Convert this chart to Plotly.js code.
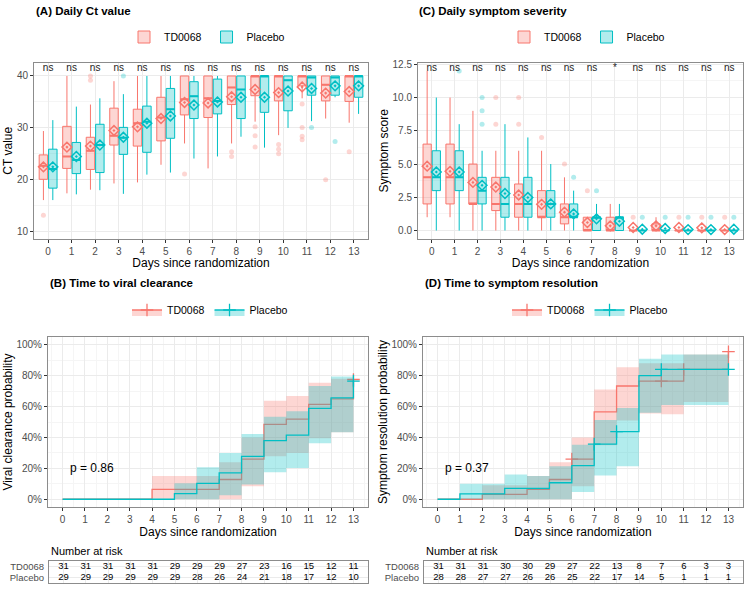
<!DOCTYPE html>
<html><head><meta charset="utf-8">
<script src="https://cdn.plot.ly/plotly-3.0.1.min.js"></script>
<style>body{margin:0;background:#fff}#chart{width:750px;height:600px}</style>
</head><body><div id="chart"></div>
<script>
// ---------------- data ----------------
const days = [0,1,2,3,4,5,6,7,8,9,10,11,12,13];
const groupNames = ['TD0068','Placebo'];

// Panel A: daily Ct value (box stats)
const ctTD_q1   = [20.1,22.2,22.0,26.7,26.5,27.5,32.5,32.0,34.5,36.2,35.2,38.1,35.2,35.1];
const ctTD_med  = [22.7,24.5,25.6,28.5,30.9,32.0,35.5,35.7,37.8,40,40,40,38.3,40];
const ctTD_q3   = [24.8,30.3,28.2,33.8,33.6,35.9,40,40,40,40,40,40,40,40];
const ctTD_lo   = [16.1,17.4,18.1,19.3,19.5,22.9,27.0,22.2,27.0,31.2,28.6,35.7,31.8,31.0];
const ctTD_hi   = [29.4,40,34.5,39.0,40,40,40,40,40,40,40,40,40,40];
const ctTD_mean = [22.5,26.3,26.5,29.5,30.2,31.8,34.9,34.8,36.0,37.4,36.8,37.9,36.7,37.0];
const ctTD_outDay = [0,2,2,6,8,8,9,9,9,10,10,10,11,11,11,11,12,13];
const ctTD_outVal = [13.2,40,39.2,21.1,25.4,24.5,30.2,28.5,26.3,26.8,25.9,25.0,34.6,30.1,28.4,27.7,20.0,25.4];

const ctPL_q1   = [18.4,21.2,21.4,24.9,25.3,28.0,31.8,32.7,31.8,33.0,33.3,36.3,36.3,35.9];
const ctPL_med  = [22.1,23.8,26.7,28.1,31.2,33.6,36.1,35.2,37.4,40,39.2,39.7,39.7,40];
const ctPL_q3   = [25.9,27.2,30.7,30.1,34.2,37.6,38.9,39.4,40,40,40,40,40,40];
const ctPL_lo   = [16.1,17.2,18.0,17.3,21.0,21.4,24.1,24.5,28.3,26.2,30.0,31.3,35.9,32.7];
const ctPL_hi   = [31.5,34.1,35.7,36.5,40,40,40,40,40,40,40,40,40,40];
const ctPL_mean = [22.5,24.5,26.7,28.2,30.9,32.3,34.4,35.0,35.9,35.9,37.1,37.6,38.1,38.1];
const ctPL_outDay = [3,11,12];
const ctPL_outVal = [40,30.1,27.4];
const ctSig = ['ns','ns','ns','ns','ns','ns','ns','ns','ns','ns','ns','ns','ns','ns'];

// Panel C: daily symptom score (box stats)
const ssTD_q1   = [2,2,2,1.5,1,1,0.5,0,0,0,0,0,0,0];
const ssTD_med  = [4,4,2,2,2,1,1,0,0,0,0,0,0,0];
const ssTD_q3   = [6.5,6.5,5,4,3.5,3,2,1,1,0,0.5,0,0,0];
const ssTD_lo   = [1,1,0,0,0,0,0,0,0,0,0,0,0,0];
const ssTD_hi   = [12,10,9,6,6,6,4,1,2,0,1,0,0,0];
const ssTD_mean = [4.84,4.45,3.62,3.27,2.67,1.97,1.38,0.6,0.35,0.23,0.35,0.23,0.2,0.07];
const ssTD_outDay = [3,3,4,4,5,6,7,9,11,12,13];
const ssTD_outVal = [10,8,10,8,7,5,3,1,1,1,1];

const ssPL_q1   = [3,3,2,1,1,1,1,0,0,0,0,0,0,0];
const ssPL_med  = [4,4,3,2,2,2,1,1,1,0,0,0,0,0];
const ssPL_q3   = [6,6,4,4,4,3,2,1,1,0,0,0,0,0];
const ssPL_lo   = [0,0,0,0,0,0,0,0,0,0,0,0,0,0];
const ssPL_hi   = [10,8,6,8,7,5,3,2,2,0,0,0,0,0];
const ssPL_mean = [4.4,4.4,3.4,2.78,2.48,2.0,1.25,0.88,0.7,0.1,0.15,0.07,0.07,0.1];
const ssPL_outDay = [1,2,2,2,6,7,9,10,11,12,13];
const ssPL_outVal = [12,10,9,8,4,3,1,1,1,1,1];
const ssSig = ['ns','ns','ns','ns','ns','ns','ns','ns','*','ns','ns','ns','ns','ns'];

// Panel B: time to viral clearance (KM cumulative)
const vcTD    = [0,0,0,0,0.064,0.064,0.064,0.128,0.26,0.485,0.518,0.614,0.65,0.775];
const vcTD_lo = [0,0,0,0,0,0,0,0,0.085,0.278,0.30,0.395,0.434];
const vcTD_hi = [0,0,0,0,0.15,0.15,0.15,0.24,0.40,0.637,0.669,0.754,0.78];
const vcPL    = [0,0,0,0,0,0.036,0.103,0.171,0.278,0.38,0.415,0.588,0.656,0.765];
const vcPL_lo = [0,0,0,0,0,0,0,0.026,0.096,0.175,0.203,0.363,0.434];
const vcPL_hi = [0,0,0,0,0,0.103,0.207,0.30,0.423,0.534,0.57,0.733,0.795];
const vcTD_cenX = [13], vcTD_cenY = [0.775];
const vcPL_cenX = [13], vcPL_cenY = [0.765];
const vcRiskTD = [31,31,31,31,31,29,29,29,27,23,16,15,12,11];
const vcRiskPL = [29,29,29,29,29,29,28,26,24,21,18,17,12,10];
const vcP = 'p = 0.86';

// Panel D: time to symptom resolution (KM cumulative)
const srTD    = [0,0,0.032,0.032,0.065,0.128,0.26,0.566,0.733,0.765,0.765,0.84,0.84,0.955];
const srTD_lo = [0,0,0,0,0,0,0.085,0.35,0.51,0.555,0.55,0.63,0.63];
const srTD_hi = [0,0,0.09,0.09,0.15,0.24,0.40,0.71,0.855,0.88,0.88,0.936,0.936];
const srPL    = [0,0.035,0.035,0.07,0.07,0.107,0.218,0.357,0.438,0.80,0.84,0.84,0.84,0.84];
const srPL_lo = [0,0,0,0,0,0,0.047,0.154,0.214,0.56,0.61,0.61,0.61];
const srPL_hi = [0,0.10,0.10,0.16,0.15,0.214,0.353,0.513,0.59,0.91,0.936,0.936,0.936];
const srTD_cenX = [6,10,11,13], srTD_cenY = [0.26,0.765,0.84,0.955];
const srPL_cenX = [7,8,10,13],  srPL_cenY = [0.357,0.438,0.84,0.84];
const srRiskTD = [31,31,31,30,30,29,27,22,13,8,7,6,3,3];
const srRiskPL = [28,28,27,27,26,26,25,22,17,14,5,1,1,1];
const srP = 'p = 0.37';

// ---------------- style ----------------
const RED='#F8766D', TEAL='#00BFC4';
const RED_F='rgba(248,118,109,0.3)', TEAL_F='rgba(0,191,196,0.3)';
const FONT='Liberation Sans, Arial, Helvetica, sans-serif';
const W=750, H=600;
const px = v => v/W, py = v => 1 - v/H;

const traces = [];
const OFF = 0.2, BW = 0.36;

function addBoxes(name, off, q1, med, q3, lo, hi, mean, oDay, oVal, color, fill, xa, ya, leg){
  traces.push({type:'box', name:name, x:days.map(d=>d+off), q1:q1, median:med, q3:q3,
    lowerfence:lo, upperfence:hi, width:BW, whiskerwidth:0, fillcolor:fill,
    line:{color:color, width:1}, boxpoints:false, xaxis:xa, yaxis:ya, legend:leg, hoverinfo:'skip'});
  const mx=[], my=[];
  days.forEach((d,i)=>{ mx.push(d+off-BW/2, d+off+BW/2, null); my.push(med[i], med[i], null); });
  traces.push({type:'scatter', mode:'lines', x:mx, y:my, line:{color:color, width:2}, xaxis:xa, yaxis:ya, showlegend:false, hoverinfo:'skip'});
  traces.push({type:'scatter', mode:'markers', x:oDay.map(d=>d+off), y:oVal, marker:{size:5, color:color, opacity:0.3},
    xaxis:xa, yaxis:ya, showlegend:false, hoverinfo:'skip'});
  traces.push({type:'scatter', mode:'markers', x:days.map(d=>d+off), y:mean,
    marker:{symbol:'diamond-open-dot', size:7.5, color:color, line:{width:1.5}},
    xaxis:xa, yaxis:ya, showlegend:false, hoverinfo:'skip'});
}

addBoxes(groupNames[0], -OFF, ctTD_q1, ctTD_med, ctTD_q3, ctTD_lo, ctTD_hi, ctTD_mean, ctTD_outDay, ctTD_outVal, RED, RED_F, 'x','y','legend');
addBoxes(groupNames[1],  OFF, ctPL_q1, ctPL_med, ctPL_q3, ctPL_lo, ctPL_hi, ctPL_mean, ctPL_outDay, ctPL_outVal, TEAL, TEAL_F, 'x','y','legend');
traces.push({type:'scatter', mode:'text', x:days, y:days.map(()=>41.5), text:ctSig, textfont:{size:10, color:'#222', family:FONT},
  xaxis:'x', yaxis:'y', showlegend:false, hoverinfo:'skip'});

addBoxes(groupNames[0], -OFF, ssTD_q1, ssTD_med, ssTD_q3, ssTD_lo, ssTD_hi, ssTD_mean, ssTD_outDay, ssTD_outVal, RED, RED_F, 'x2','y2','legend2');
addBoxes(groupNames[1],  OFF, ssPL_q1, ssPL_med, ssPL_q3, ssPL_lo, ssPL_hi, ssPL_mean, ssPL_outDay, ssPL_outVal, TEAL, TEAL_F, 'x2','y2','legend2');
traces.push({type:'scatter', mode:'text', x:days, y:days.map(()=>12.2), text:ssSig, textfont:{size:10, color:'#222', family:FONT},
  xaxis:'x2', yaxis:'y2', showlegend:false, hoverinfo:'skip'});

function stepBand(lo, hi){
  const bx=[], by=[];
  for(let i=0;i<hi.length;i++){ bx.push(days[i], days[i+1]); by.push(hi[i], hi[i]); }
  for(let i=lo.length-1;i>=0;i--){ bx.push(days[i+1], days[i]); by.push(lo[i], lo[i]); }
  return {bx, by};
}
function addKM(name, est, lo, hi, cx, cy, color, fill, xa, ya, leg){
  const b = stepBand(lo, hi);
  traces.push({type:'scatter', mode:'lines', x:b.bx, y:b.by, fill:'toself', fillcolor:fill, line:{width:0},
    xaxis:xa, yaxis:ya, showlegend:false, hoverinfo:'skip'});
  traces.push({type:'scatter', mode:'lines', x:days, y:est, line:{color:color, width:1.3, shape:'hv'},
    xaxis:xa, yaxis:ya, showlegend:false, hoverinfo:'skip'});
  traces.push({type:'scatter', mode:'markers', x:cx, y:cy, marker:{symbol:'cross-thin', size:9, line:{color:color, width:1.3}},
    xaxis:xa, yaxis:ya, showlegend:false, hoverinfo:'skip'});
  traces.push({type:'scatter', mode:'lines+markers', name:name, x:[null], y:[null], fill:'toself', fillcolor:fill,
    line:{color:color, width:1.3}, marker:{symbol:'cross-thin', size:9, line:{color:color, width:1.3}},
    xaxis:xa, yaxis:ya, legend:leg, hoverinfo:'skip'});
}
addKM(groupNames[0], vcTD, vcTD_lo, vcTD_hi, vcTD_cenX, vcTD_cenY, RED, RED_F, 'x3','y3','legend3');
addKM(groupNames[1], vcPL, vcPL_lo, vcPL_hi, vcPL_cenX, vcPL_cenY, TEAL, TEAL_F, 'x3','y3','legend3');
addKM(groupNames[0], srTD, srTD_lo, srTD_hi, srTD_cenX, srTD_cenY, RED, RED_F, 'x4','y4','legend4');
addKM(groupNames[1], srPL, srPL_lo, srPL_hi, srPL_cenX, srPL_cenY, TEAL, TEAL_F, 'x4','y4','legend4');

function addRisk(rTD, rPL, xa, ya){
  traces.push({type:'scatter', mode:'text', x:days, y:days.map(()=>1), text:rTD.map(String),
    textfont:{size:9.5, color:'#000', family:FONT}, xaxis:xa, yaxis:ya, showlegend:false, hoverinfo:'skip'});
  traces.push({type:'scatter', mode:'text', x:days, y:days.map(()=>0), text:rPL.map(String),
    textfont:{size:9.5, color:'#000', family:FONT}, xaxis:xa, yaxis:ya, showlegend:false, hoverinfo:'skip'});
}
addRisk(vcRiskTD, vcRiskPL, 'x5','y5');
addRisk(srRiskTD, srRiskPL, 'x6','y6');

// ---------------- layout ----------------
const tickfont = {size:10, color:'#4d4d4d', family:FONT};
function baseAxis(anchor, domain, range, extra){
  return Object.assign({anchor:anchor, domain:domain, range:range, showline:true, mirror:true, linecolor:'#8c8c8c', linewidth:1,
    showgrid:true, gridcolor:'#ebebeb', gridwidth:1, zeroline:false, ticks:'outside', ticklen:3, tickcolor:'#333',
    tickfont:tickfont, fixedrange:true}, extra||{});
}
const xTitle = {text:'Days since randomization', font:{size:12, color:'#000', family:FONT}, standoff:2};
function yTitle(t){ return {text:t, font:{size:12, color:'#000', family:FONT}, standoff:1}; }

const yTop = [py(238.5), py(63)];
const yBot = [py(507), py(337)];
const minorPct = {dtick:0.1, showgrid:true, gridcolor:'#f5f5f5', ticks:''};
const minorDay = {dtick:0.5, showgrid:true, gridcolor:'#f5f5f5', ticks:''};
const legFont = {size:10.5, family:FONT};
const rowFont = {size:9.5, color:'#4d4d4d', family:FONT};

const layout = {
  width:W, height:H, margin:{l:0,r:0,t:0,b:0}, paper_bgcolor:'#fff', plot_bgcolor:'#fff',
  font:{family:FONT, color:'#000'}, showlegend:true, hovermode:false,
  xaxis: baseAxis('y', [px(34), px(368)], [-0.6, 13.6], {tickmode:'array', tickvals:days, title:xTitle}),
  yaxis: baseAxis('x', yTop, [8.7, 42.5], {tickvals:[10,20,30,40], minor:{tickvals:[15,25,35], showgrid:true, gridcolor:'#f5f5f5', ticks:''}, title:yTitle('CT value')}),
  xaxis2: baseAxis('y2', [px(418), px(743)], [-0.6, 13.6], {tickmode:'array', tickvals:days, title:xTitle}),
  yaxis2: baseAxis('x2', yTop, [-0.6, 12.6], {tickvals:[0,2.5,5,7.5,10,12.5], tickformat:'.1f', minor:{tickvals:[1.25,3.75,6.25,8.75,11.25], showgrid:true, gridcolor:'#f5f5f5', ticks:''}, title:yTitle('Symptom score')}),
  xaxis3: baseAxis('y3', [px(48), px(368)], [-0.65, 13.65], {tickmode:'array', tickvals:days, minor:minorDay, title:xTitle}),
  yaxis3: baseAxis('x3', yBot, [-0.05, 1.05], {tickvals:[0,0.2,0.4,0.6,0.8,1], tickformat:'.0%', minor:minorPct, title:yTitle('Viral clearance probability')}),
  xaxis4: baseAxis('y4', [px(423), px(743)], [-0.65, 13.65], {tickmode:'array', tickvals:days, minor:minorDay, title:xTitle}),
  yaxis4: baseAxis('x4', yBot, [-0.05, 1.05], {tickvals:[0,0.2,0.4,0.6,0.8,1], tickformat:'.0%', minor:minorPct, title:yTitle('Symptom resolution probability')}),
  xaxis5: baseAxis('y5', [px(49), px(368)], [-0.65, 13.65], {tickmode:'array', tickvals:days, showticklabels:false, ticks:''}),
  yaxis5: baseAxis('x5', [py(583), py(561)], [-0.45, 1.45], {tickmode:'array', tickvals:[0,1], ticktext:[groupNames[1], groupNames[0]], ticks:'', tickfont:rowFont, ticklabelstandoff:2}),
  xaxis6: baseAxis('y6', [px(424), px(743)], [-0.65, 13.65], {tickmode:'array', tickvals:days, showticklabels:false, ticks:''}),
  yaxis6: baseAxis('x6', [py(583), py(561)], [-0.45, 1.45], {tickmode:'array', tickvals:[0,1], ticktext:[groupNames[1], groupNames[0]], ticks:'', tickfont:rowFont, ticklabelstandoff:2}),
  legend:  {x:px(207), y:py(37),  xanchor:'center', yanchor:'middle', orientation:'h', itemwidth:30, font:legFont, bgcolor:'rgba(0,0,0,0)'},
  legend2: {x:px(587), y:py(37),  xanchor:'center', yanchor:'middle', orientation:'h', itemwidth:30, font:legFont, bgcolor:'rgba(0,0,0,0)'},
  legend3: {x:px(210), y:py(310), xanchor:'center', yanchor:'middle', orientation:'h', itemwidth:30, font:legFont, bgcolor:'rgba(0,0,0,0)'},
  legend4: {x:px(590), y:py(310), xanchor:'center', yanchor:'middle', orientation:'h', itemwidth:30, font:legFont, bgcolor:'rgba(0,0,0,0)'},
  annotations: [
    {text:'<b>(A) Daily Ct value</b>', x:px(34), y:py(11), xref:'paper', yref:'paper', xanchor:'left', yanchor:'middle', showarrow:false, font:{size:11.5, family:FONT}},
    {text:'<b>(C) Daily symptom severity</b>', x:px(417), y:py(11), xref:'paper', yref:'paper', xanchor:'left', yanchor:'middle', showarrow:false, font:{size:11.5, family:FONT}},
    {text:'<b>(B) Time to viral clearance</b>', x:px(48), y:py(283), xref:'paper', yref:'paper', xanchor:'left', yanchor:'middle', showarrow:false, font:{size:11.5, family:FONT}},
    {text:'<b>(D) Time to symptom resolution</b>', x:px(423), y:py(283), xref:'paper', yref:'paper', xanchor:'left', yanchor:'middle', showarrow:false, font:{size:11.5, family:FONT}},
    {text:vcP, x:0.25, y:0.2, xref:'x3', yref:'y3', xanchor:'left', yanchor:'middle', showarrow:false, font:{size:12, family:FONT}},
    {text:srP, x:0.25, y:0.2, xref:'x4', yref:'y4', xanchor:'left', yanchor:'middle', showarrow:false, font:{size:12, family:FONT}},
    {text:'Number at risk', x:px(49), y:py(551), xref:'paper', yref:'paper', xanchor:'left', yanchor:'middle', showarrow:false, font:{size:11, family:FONT}},
    {text:'Number at risk', x:px(424), y:py(551), xref:'paper', yref:'paper', xanchor:'left', yanchor:'middle', showarrow:false, font:{size:11, family:FONT}}
  ]
};

Plotly.newPlot('chart', traces, layout, {staticPlot:true, displayModeBar:false});
</script></body></html>
